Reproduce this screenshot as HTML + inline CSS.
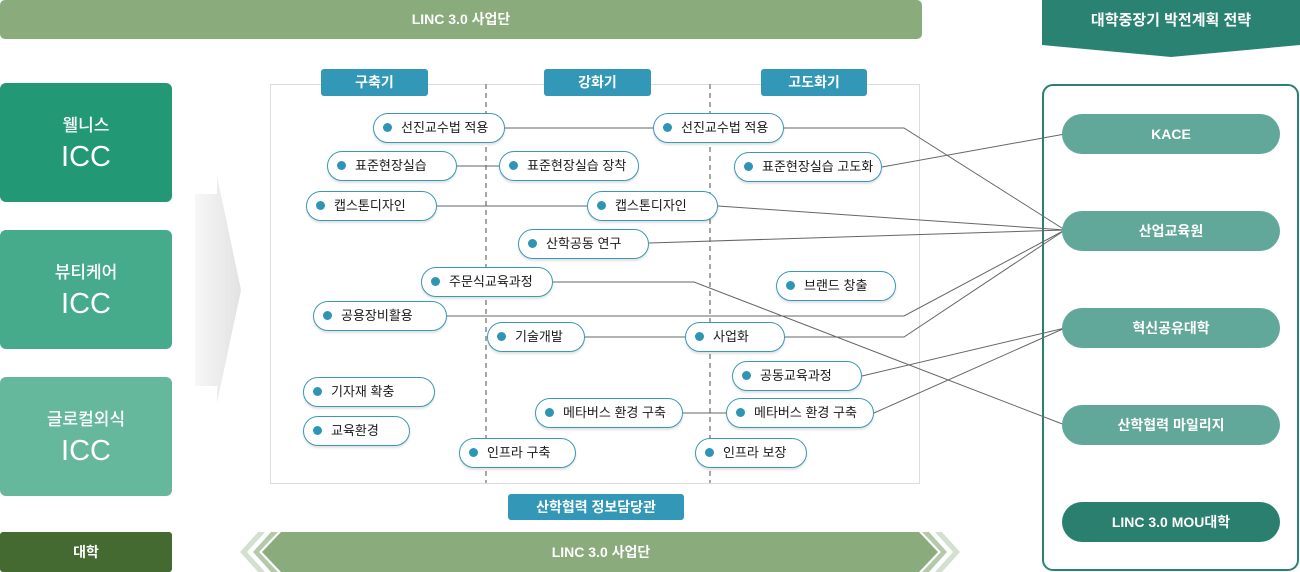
<!DOCTYPE html>
<html><head><meta charset="utf-8"><style>
*{margin:0;padding:0;box-sizing:border-box}
body{width:1300px;height:572px;position:relative;background:#fff;overflow:hidden;font-family:"Liberation Sans","Noto Sans CJK KR",sans-serif}
.a{position:absolute}
.lbox{position:absolute;left:0;width:172px;height:119px;border-radius:6px;color:#fff;text-align:center;font-size:17px;padding-top:32px;line-height:22px;font-weight:500}
.lbox b{display:block;font-weight:normal;font-size:29px;line-height:36px;margin-top:2px}
.tab{position:absolute;height:27px;background:#3398b8;color:#fff;font-size:14px;font-weight:bold;text-align:center;line-height:27px;border-radius:3px}
.n{position:absolute;height:30px;background:#fff;border:1.5px solid #3a98b8;border-radius:15px;font-size:13px;color:#1a1a1a;line-height:27px;padding-left:27px;white-space:nowrap;box-shadow:0 2px 2px rgba(0,0,0,.12)}
.n:before{content:"";position:absolute;left:9px;top:9px;width:9px;height:9px;border-radius:50%;background:#2e95b5}
.p{position:absolute;left:1062px;width:218px;height:40px;border-radius:20px;background:#62a89a;color:#fff;font-size:14px;font-weight:bold;text-align:center;line-height:40px}
</style></head><body>
<div class="a" style="left:0;top:0;width:922px;height:39px;background:#8aab7c;border-radius:5px;color:#fff;font-size:14px;font-weight:bold;text-align:center;line-height:39px">LINC 3.0 사업단</div>

<div class="lbox" style="top:83px;background:#229874">웰니스<b>ICC</b></div>
<div class="lbox" style="top:230px;background:#46ab8a">뷰티케어<b>ICC</b></div>
<div class="lbox" style="top:377px;background:#66b89c">글로컬외식<b>ICC</b></div>
<div class="a" style="left:0;top:532px;width:172px;height:40px;background:#446a31;border-radius:3px;color:#fff;font-size:14px;font-weight:bold;text-align:center;line-height:40px">대학</div>

<svg class="a" style="left:0;top:0" width="1300" height="572">
<defs><linearGradient id="g" x1="0" x2="1"><stop offset="0" stop-color="#f7f7f7"/><stop offset="1" stop-color="#e2e2e2"/></linearGradient></defs>
<polygon points="195,194 217,194 217,176 241,290 217,403 217,386 195,386" fill="url(#g)"/>
<rect x="270.5" y="84.5" width="649" height="399" fill="none" stroke="#dcdcdc"/>
<line x1="486" y1="84" x2="486" y2="483" stroke="#888" stroke-width="1.5" stroke-dasharray="5,4"/>
<line x1="710" y1="84" x2="710" y2="483" stroke="#888" stroke-width="1.5" stroke-dasharray="5,4"/>
<polygon points="1042,0 1300,0 1300,45 1171,57 1042,45" fill="#2a8273"/>
<rect x="1043" y="85" width="255" height="485" rx="10" fill="none" stroke="#2a8273" stroke-width="2"/>
<g fill="none" stroke="#666" stroke-width="1">
<polyline points="505,128 653,128"/>
<polyline points="784,128 904,128 1065,230"/>
<polyline points="457,166 499,166"/>
<polyline points="882,167 1065,134"/>
<polyline points="437,206 587,206"/>
<polyline points="718,206 1065,230"/>
<polyline points="649,243 1065,230"/>
<polyline points="553,282 694,282 1065,425"/>
<polyline points="447,316 904,316 1065,230"/>
<polyline points="585,337 685,337"/>
<polyline points="785,337 904,337 1065,230"/>
<polyline points="862,376 1065,328"/>
<polyline points="683,413 726,413"/>
<polyline points="874,413 1065,328"/>
</g>
<polygon points="240,552 258,532 942,532 960,552 942,572 258,572" fill="#d5dfd0"/>
<polygon points="247,552 265,532 935,532 953,552 935,572 265,572" fill="#fff"/>
<polygon points="253,552 271,532 929,532 947,552 929,572 271,572" fill="#b4c8aa"/>
<polygon points="259,552 278,532 922,532 941,552 922,572 278,572" fill="#fff"/>
<polygon points="262,552 281,532 919,532 938,552 919,572 281,572" fill="#8aab7c"/>
</svg>
<div class="a" style="left:282px;top:532px;width:638px;height:40px;color:#fff;font-size:14px;font-weight:bold;text-align:center;line-height:40px">LINC 3.0 사업단</div>
<div class="a" style="left:1042px;top:0;width:258px;height:45px;color:#fff;font-size:15px;font-weight:bold;text-align:center;line-height:42px">대학중장기 박전계획 전략</div>

<div class="tab" style="left:321px;top:69px;width:107px">구축기</div>
<div class="tab" style="left:544px;top:69px;width:107px">강화기</div>
<div class="tab" style="left:761px;top:69px;width:106px">고도화기</div>
<div class="tab" style="left:508px;top:494px;width:176px;height:26px;line-height:26px">산학협력 정보담당관</div>

<div class="n" style="left:373px;top:113px;width:132px">선진교수법 적용</div>
<div class="n" style="left:653px;top:113px;width:131px">선진교수법 적용</div>
<div class="n" style="left:327px;top:151px;width:130px">표준현장실습</div>
<div class="n" style="left:499px;top:151px;width:140px">표준현장실습 장착</div>
<div class="n" style="left:734px;top:152px;width:148px">표준현장실습 고도화</div>
<div class="n" style="left:306px;top:191px;width:131px">캡스톤디자인</div>
<div class="n" style="left:587px;top:191px;width:131px">캡스톤디자인</div>
<div class="n" style="left:518px;top:229px;width:131px">산학공동 연구</div>
<div class="n" style="left:421px;top:267px;width:132px">주문식교육과정</div>
<div class="n" style="left:776px;top:271px;width:120px">브랜드 창출</div>
<div class="n" style="left:313px;top:301px;width:134px">공용장비활용</div>
<div class="n" style="left:487px;top:322px;width:98px">기술개발</div>
<div class="n" style="left:685px;top:322px;width:100px">사업화</div>
<div class="n" style="left:732px;top:361px;width:130px">공동교육과정</div>
<div class="n" style="left:303px;top:377px;width:132px">기자재 확충</div>
<div class="n" style="left:535px;top:398px;width:148px">메타버스 환경 구축</div>
<div class="n" style="left:726px;top:398px;width:148px">메타버스 환경 구축</div>
<div class="n" style="left:303px;top:416px;width:107px">교육환경</div>
<div class="n" style="left:459px;top:438px;width:117px">인프라 구축</div>
<div class="n" style="left:695px;top:438px;width:112px">인프라 보장</div>

<div class="p" style="top:114px">KACE</div>
<div class="p" style="top:211px">산업교육원</div>
<div class="p" style="top:308px">혁신공유대학</div>
<div class="p" style="top:405px">산학협력 마일리지</div>
<div class="p" style="top:502px;background:#2a7f6e">LINC 3.0 MOU대학</div>
</body></html>
